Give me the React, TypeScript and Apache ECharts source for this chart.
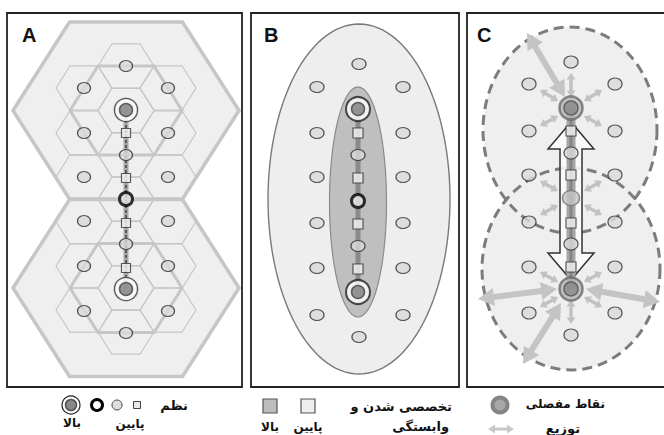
import React, { useEffect, useRef } from "react";
import * as echarts from "echarts";

// ---------- diagram data (diagram units on hidden value axes) ----------
const panelLabels = ["A", "B", "C"];

// Panel A
const bigHexA = [[126, 110.5], [126, 288]];
const midHexA = [[126, 110.5], [126, 288]];
const smallHexA = [
  [126, 66], [126, 110.5], [126, 155], [126, 199], [126, 243.5], [126, 288], [126, 332],
  [84, 88], [84, 133], [84, 177], [84, 221.5], [84, 266], [84, 310],
  [168, 88], [168, 133], [168, 177], [168, 221.5], [168, 266], [168, 310],
];
const circlesA = [
  [126, 66], [84, 88], [168, 88], [84, 133], [168, 133], [84, 177], [168, 177], [126, 155],
  [84, 221], [168, 221], [126, 244], [84, 266], [168, 266], [84, 311], [168, 311], [126, 333],
];
const squaresA = [[126, 133], [126, 178], [126, 223], [126, 268]];
const bigA = [[126, 110], [126, 289]];
const boldA = [[126, 199]];
const spineA = [[126, 110], [126, 289]];

// Panel B
const outerEllB = [[359, 199]];
const innerEllB = [[358, 202]];
const circlesB = [
  [359, 64], [317, 87], [403, 87], [317, 133], [403, 133], [317, 177], [403, 177],
  [317, 223], [403, 223], [317, 268], [403, 268], [317, 315], [403, 315], [359, 337],
  [358, 155], [358, 246],
];
const squaresB = [[358, 133], [358, 178], [358, 224], [358, 269]];
const bigB = [[358, 109], [358, 292]];
const boldB = [[358, 201]];
const spineB = [[358, 109], [358, 292]];

// Panel C
const dashEllC = [[570, 130, 87, 103], [571, 269, 89, 101]];
const circlesC = [
  [571, 62], [529, 84], [615, 84], [529, 131], [615, 131], [529, 175], [615, 175],
  [529, 222], [615, 222], [529, 267], [615, 267], [529, 313], [615, 313], [571, 335],
  [571, 153], [571, 244],
];
const squaresC = [[571, 131], [571, 175], [571, 223], [571, 267]];
const bigC = [[571, 108], [571, 289]];
const midC = [[571, 198]];
const spineC = [[571, 108], [571, 289]];
const bigArrowC = [[571, 122, 571, 280]];
const smallArrowsC = [
  [571, 97, 571, 73], [558, 101, 540, 90], [584, 101, 602, 90], [558, 116, 540, 126], [584, 116, 602, 126],
  [558, 191, 540, 181], [584, 191, 602, 181], [558, 205, 540, 215], [584, 205, 602, 215],
  [558, 282, 540, 272], [584, 282, 602, 272], [558, 297, 540, 307], [584, 297, 602, 307], [571, 300, 571, 324],
];
const largeArrowsC = [
  [565, 97, 527, 33], [557, 289, 478, 299], [586, 289, 660, 302], [561, 303, 523, 364],
];

// Legend texts
const legendOrder = "نظم";
const legendSpec = ["تخصصی شدن و", "وابستگی"];
const legendArt = "نقاط مفصلی";
const legendDist = "توزیع";
const legendHigh = "بالا";
const legendLow = "پایین";

// ---------- geometry helpers ----------
function hexPts(cx: number, cy: number, R: number, h: number) {
  return [[cx - R, cy], [cx - R / 2, cy - h], [cx + R / 2, cy - h], [cx + R, cy], [cx + R / 2, cy + h], [cx - R / 2, cy + h]];
}
function ellPts(cx: number, cy: number, rx: number, ry: number) {
  const pts: number[][] = [];
  const n = 120;
  for (let i = 0; i < n; i++) {
    const t = (i / n) * Math.PI * 2;
    pts.push([cx + rx * Math.cos(t), cy + ry * Math.sin(t)]);
  }
  return pts;
}
function arrowPts(x1: number, y1: number, x2: number, y2: number, sw: number, hw: number, hl: number) {
  const L = Math.hypot(x2 - x1, y2 - y1);
  const ux = (x2 - x1) / L, uy = (y2 - y1) / L;
  const nx = -uy, ny = ux;
  const b1 = [x1 + ux * hl, y1 + uy * hl];
  const b2 = [x2 - ux * hl, y2 - uy * hl];
  const off = (p: number[], k: number) => [p[0] + nx * k, p[1] + ny * k];
  return [
    [x1, y1], off(b1, hw / 2), off(b1, sw / 2), off(b2, sw / 2), off(b2, hw / 2), [x2, y2],
    off(b2, -hw / 2), off(b2, -sw / 2), off(b1, -sw / 2), off(b1, -hw / 2),
  ];
}

function polySeries(items: number[][], toPts: (d: number[]) => number[][], style: any, z = 2) {
  return {
    type: "custom",
    silent: true,
    z,
    data: items.map((d) => [d[0], d[1]]),
    renderItem: (params: any, api: any) => {
      const pts = toPts(items[params.dataIndex]).map((p) => api.coord(p));
      return { type: "polygon", shape: { points: pts }, style };
    },
  };
}

function scatter(data: number[][], size: any, style: any, z = 5) {
  return {
    type: "scatter",
    silent: true,
    z,
    data,
    symbol: "circle",
    symbolSize: size,
    itemStyle: style,
  };
}
function squares(data: number[][], size: number, style: any, z = 5) {
  return { type: "scatter", silent: true, z, data, symbol: "rect", symbolSize: size, itemStyle: style };
}
function spine(data: number[][], style: any, z = 3) {
  return { type: "line", silent: true, z, data, symbol: "none", lineStyle: style };
}

const FONT = '"DejaVu Sans", sans-serif';

export default function App() {
  const ref = useRef<HTMLDivElement>(null);
  useEffect(() => {
    document.body.style.margin = "0";
    if (!ref.current) return;
    const chart = echarts.init(ref.current, undefined, { renderer: "svg" });
    const hexStroke = "#c6c6c6";
    const circleStyle = { color: "#d9d9d9", borderColor: "#333", borderWidth: 1.2 };
    const squareStyle = { color: "#f2f2f2", borderColor: "#333", borderWidth: 1.2 };

    const series: any[] = [
      // Panel A
      polySeries(bigHexA, (d) => hexPts(d[0], d[1], 113, 88.5), { fill: "#efefef", stroke: hexStroke, lineWidth: 3.5 }, 1),
      polySeries(smallHexA, (d) => hexPts(d[0], d[1], 28, 22.2), { fill: "none", stroke: hexStroke, lineWidth: 1.2 }, 2),
      polySeries(midHexA, (d) => hexPts(d[0], d[1], 56, 44.5), { fill: "none", stroke: hexStroke, lineWidth: 3 }, 2),
      spine(spineA, { color: "#a8a8a8", width: 5 }),
      spine(spineA, { color: "#5a5a5a", width: 2, type: [3, 2] }),
      scatter(circlesA, [13, 11], circleStyle),
      squares(squaresA, 9, squareStyle),
      scatter(bigA, 26, { color: "rgba(190,190,190,0.5)", borderColor: "rgba(0,0,0,0)", borderWidth: 0 }, 4),
      scatter(bigA, 23, { color: "#fff", borderColor: "#333", borderWidth: 1.3 }),
      scatter(bigA, 13, { color: "#7c7c7c", borderColor: "#444", borderWidth: 1.5 }, 6),
      scatter(boldA, 13, { color: "#e4e4e4", borderColor: "#000", borderWidth: 3 }),

      // Panel B
      polySeries(outerEllB, (d) => ellPts(d[0], d[1], 91, 175), { fill: "#eeeeee", stroke: "#7a7a7a", lineWidth: 1.4 }, 1),
      polySeries(innerEllB, (d) => ellPts(d[0], d[1], 28.5, 115), { fill: "#bfbfbf", stroke: "#8a8a8a", lineWidth: 1.2 }, 2),
      spine(spineB, { color: "#8a8a8a", width: 5 }),
      scatter(circlesB, [14, 11], circleStyle),
      squares(squaresB, 10, squareStyle),
      scatter(bigB, 24, { color: "#fff", borderColor: "#222", borderWidth: 2 }),
      scatter(bigB, 13, { color: "#7c7c7c", borderColor: "#444", borderWidth: 1.5 }, 6),
      scatter(boldB, 13, { color: "#e8e8e8", borderColor: "#000", borderWidth: 3 }),

      // Panel C
      polySeries(dashEllC, (d) => ellPts(d[0], d[1], d[2], d[3]), { fill: "#efefef", stroke: "none" }, 1),
      polySeries(dashEllC, (d) => ellPts(d[0], d[1], d[2], d[3]), { fill: "none", stroke: "#7c7c7c", lineWidth: 3, lineDash: [10, 6] }, 2),
      polySeries(largeArrowsC, (d) => arrowPts(d[0], d[1], d[2], d[3], 6, 18, 16), { fill: "#c4c4c4", stroke: "none" }, 2),
      polySeries(smallArrowsC, (d) => arrowPts(d[0], d[1], d[2], d[3], 3.5, 9, 6.5), { fill: "#c2c2c2", stroke: "none" }, 2),
      polySeries(bigArrowC, (d) => arrowPts(d[0], d[1], d[2], d[3], 22, 46, 27), { fill: "rgba(250,250,250,0.88)", stroke: "#333", lineWidth: 1.5 }, 3),
      spine(spineC, { color: "#a6a6a6", width: 9 }, 4),
      spine(spineC, { color: "#858585", width: 3 }, 4),
      scatter(circlesC, [14, 12], circleStyle),
      squares(squaresC, 10, squareStyle),
      scatter(midC, [17, 15], { color: "#c6c6c6", borderColor: "#777", borderWidth: 1.5 }),
      scatter(bigC, 23, { color: "#b4b4b4", borderColor: "#6a6a6a", borderWidth: 2.5 }),
      scatter(bigC, 14, { color: "#888", borderColor: "#444", borderWidth: 1.3 }, 6),
    ];

    const legendArrow = arrowPts(488, 429, 514, 429, 3, 9, 7);
    const txt = (text: string, x: number, y: number, align: string, size = 13) => ({
      type: "text",
      silent: true,
      style: { text, x, y, fill: "#111", font: `bold ${size}px ${FONT}`, textAlign: align, textVerticalAlign: "middle", verticalAlign: "middle" },
    });

    const graphic: any[] = [
      { type: "rect", silent: true, shape: { x: 7, y: 13, width: 235, height: 374 }, style: { fill: "none", stroke: "#222", lineWidth: 1.8 } },
      { type: "rect", silent: true, shape: { x: 251, y: 13, width: 208, height: 374 }, style: { fill: "none", stroke: "#222", lineWidth: 1.8 } },
      { type: "rect", silent: true, shape: { x: 467, y: 13, width: 210, height: 374 }, style: { fill: "none", stroke: "#222", lineWidth: 1.8 } },
      ...panelLabels.map((t, i) => ({
        type: "text",
        silent: true,
        z: 10,
        style: { text: t, x: [22, 264, 477][i], y: 35, fill: "#111", font: 'bold 20px "Liberation Sans", Arial, sans-serif', textVerticalAlign: "middle", verticalAlign: "middle" },
      })),
      // legend left
      { type: "circle", silent: true, shape: { cx: 71, cy: 405, r: 9 }, style: { fill: "#fff", stroke: "#222", lineWidth: 1.2 } },
      { type: "circle", silent: true, shape: { cx: 71, cy: 405, r: 5.5 }, style: { fill: "#888", stroke: "#555", lineWidth: 1.5 } },
      { type: "circle", silent: true, shape: { cx: 97, cy: 405, r: 5.5 }, style: { fill: "#fff", stroke: "#000", lineWidth: 3 } },
      { type: "circle", silent: true, shape: { cx: 117, cy: 405, r: 5 }, style: { fill: "#ddd", stroke: "#444", lineWidth: 1 } },
      { type: "rect", silent: true, shape: { x: 133.5, y: 401.5, width: 7, height: 7 }, style: { fill: "#e8e8e8", stroke: "#444", lineWidth: 1 } },
      txt(legendOrder, 188, 405, "right"),
      txt(legendHigh, 72, 423, "center", 12),
      txt(legendLow, 130, 424, "center", 12),
      // legend middle
      { type: "rect", silent: true, shape: { x: 263, y: 399, width: 14, height: 14 }, style: { fill: "#bdbdbd", stroke: "#555", lineWidth: 1.2 } },
      { type: "rect", silent: true, shape: { x: 301, y: 399, width: 14, height: 14 }, style: { fill: "#eeeeee", stroke: "#555", lineWidth: 1.2 } },
      txt(legendSpec[0], 452, 406, "right"),
      txt(legendSpec[1], 449, 426, "right"),
      txt(legendHigh, 270, 427, "center", 12),
      txt(legendLow, 308, 427, "center", 12),
      // legend right
      { type: "circle", silent: true, shape: { cx: 500, cy: 405, r: 7.5 }, style: { fill: "#a8a8a8", stroke: "#858585", lineWidth: 4 } },
      txt(legendArt, 605, 404, "right", 12),
      { type: "polygon", silent: true, shape: { points: legendArrow }, style: { fill: "#c8c8c8" } },
      txt(legendDist, 563, 428, "center"),
    ];

    chart.setOption({
      animation: false,
      grid: { left: 0, right: 0, top: 0, bottom: 0, containLabel: false },
      xAxis: { type: "value", min: 0, max: 664, show: false },
      yAxis: { type: "value", min: 0, max: 435, inverse: true, show: false },
      tooltip: { show: false },
      series,
      graphic,
    });
    return () => chart.dispose();
  }, []);
  return <div ref={ref} style={{ width: 664, height: 435, background: "#fff" }} />;
}
